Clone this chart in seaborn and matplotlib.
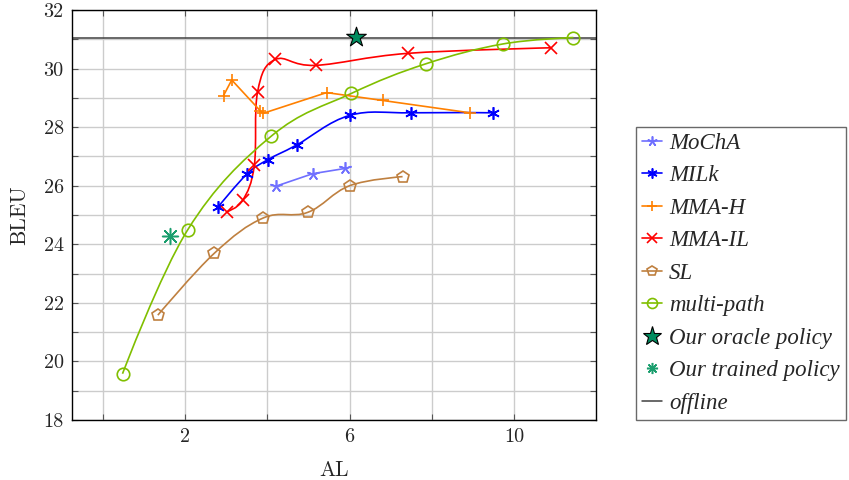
import numpy as np
import pandas as pd
import seaborn as sns
import matplotlib.pyplot as plt
from matplotlib.path import Path
from matplotlib.patches import PathPatch
from matplotlib.lines import Line2D

# values (AL, BLEU)
mocha_al = [4.20, 5.10, 5.89]
mocha_bleu = [25.98, 26.41, 26.59]
milk_al = [2.80, 3.50, 4.01, 4.71, 6.00, 7.50, 9.49]
milk_bleu = [25.28, 26.40, 26.89, 27.39, 28.40, 28.49, 28.49]
mmah_al = [2.93, 3.13, 3.83, 3.89, 5.44, 6.81, 8.93]
mmah_bleu = [29.08, 29.61, 28.55, 28.47, 29.18, 28.91, 28.49]
mmail_al = [3.01, 3.40, 3.68, 3.76, 4.19, 5.17, 7.42, 10.91]
mmail_bleu = [25.11, 25.51, 26.70, 29.21, 30.31, 30.11, 30.52, 30.71]
sl_al = [1.33, 2.71, 3.90, 4.98, 6.00, 7.29]
sl_bleu = [21.58, 23.70, 24.90, 25.09, 26.00, 26.31]
mp_al = [0.47, 2.06, 4.09, 6.04, 7.85, 9.73, 11.45]
mp_bleu = [19.58, 24.50, 27.69, 29.15, 30.16, 30.84, 31.06]
oracle_al = [6.15]
oracle_bleu = [31.08]
trained_al = [1.63]
trained_bleu = [24.30]
offline_bleu = 31.05

sns.set_theme(style="white")
plt.rcParams['font.family'] = ['cmr10', 'DejaVu Serif']
plt.rcParams['mathtext.fontset'] = 'cm'
plt.rcParams['axes.formatter.use_mathtext'] = True


def smooth_path(xs, ys, k=0.55 / 3):
    # tikz-like "smooth" curve through the points
    p = np.column_stack([xs, ys])
    n = len(p)
    verts = [p[0]]
    codes = [Path.MOVETO]
    for i in range(n - 1):
        d0 = p[i + 1] - p[i - 1] if i > 0 else np.zeros(2)
        d1 = p[i + 2] - p[i] if i + 2 < n else np.zeros(2)
        verts += [p[i] + k * d0, p[i + 1] - k * d1, p[i + 1]]
        codes += [Path.CURVE4] * 3
    return Path(verts, codes)


fig = plt.figure(figsize=(8.49, 4.8), dpi=100)
ax = fig.add_axes([72 / 849, 60 / 480, 524 / 849, 410 / 480])

lw = 1.2
ms = 9

series = [
    # name, x, y, color, marker, hollow, smooth
    ('MoChA', mocha_al, mocha_bleu, '#7070ff', (5, 2, 0), False, False),
    ('MILk', milk_al, milk_bleu, '#0000ff', (6, 2, 0), False, True),
    ('MMA-H', mmah_al, mmah_bleu, '#ff8000', '+', False, False),
    ('MMA-IL', mmail_al, mmail_bleu, '#ff0000', 'x', False, True),
    ('SL', sl_al, sl_bleu, '#bf8040', 'p', True, True),
    ('multi-path', mp_al, mp_bleu, '#80bf00', 'o', True, True),
]

handles = []
for name, xs, ys, c, m, hollow, smooth in series:
    df = pd.DataFrame({'AL': xs, 'BLEU': ys})
    if smooth:
        ax.add_patch(PathPatch(smooth_path(xs, ys), fill=False, edgecolor=c,
                               lw=lw, zorder=3))
        sns.lineplot(data=df, x='AL', y='BLEU', ax=ax, sort=False, estimator=None,
                     color=c, marker=m, markersize=ms, linestyle='none',
                     markerfacecolor='none' if hollow else c,
                     markeredgecolor=c, markeredgewidth=lw, zorder=4)
    else:
        sns.lineplot(data=df, x='AL', y='BLEU', ax=ax, sort=False, estimator=None,
                     color=c, marker=m, markersize=ms, lw=lw,
                     markerfacecolor=c, markeredgecolor=c,
                     markeredgewidth=lw, zorder=4)
    handles.append(Line2D([], [], color=c, lw=lw, marker=m, markersize=ms * 0.8,
                          markerfacecolor='none' if hollow else c,
                          markeredgecolor=c, markeredgewidth=lw, label=name))

ax.axhline(offline_bleu, color='#404040', lw=1.1, zorder=2)

sns.scatterplot(x=oracle_al, y=oracle_bleu, ax=ax, marker='*', s=220,
                color='#008c5f', edgecolor='black', linewidth=0.8, zorder=5)
sns.scatterplot(x=trained_al, y=trained_bleu, ax=ax, marker=(8, 2, 0), s=130,
                color='#1a9e6e', edgecolor='#1a9e6e', linewidth=1.1, zorder=5)

handles.append(Line2D([], [], ls='none', marker='*', markersize=14,
                      markerfacecolor='#008c5f', markeredgecolor='black',
                      markeredgewidth=0.8, label='Our oracle policy'))
handles.append(Line2D([], [], ls='none', marker=(8, 2, 0), markersize=8,
                      color='#1a9e6e', markeredgewidth=1.1,
                      label='Our trained policy'))
handles.append(Line2D([], [], color='#404040', lw=1.1, label='offline'))

ax.set_xlim(-0.76, 12.0)
ax.set_ylim(18, 32)
ax.set_xticks([0, 2, 4, 6, 8, 10])
ax.set_xticklabels(['', '2', '', '6', '', '10'])
ax.set_yticks(range(18, 33))
ax.set_yticklabels([str(v) if v % 2 == 0 else '' for v in range(18, 33)])
ax.grid(True, color='#cccccc', lw=1.0, zorder=0)
ax.set_axisbelow(True)
ax.tick_params(direction='in', length=4, width=0.8, color='#555555',
               top=True, right=True, bottom=True, left=True,
               labelsize=14.5, pad=6)
for s in ax.spines.values():
    s.set_color('black')
    s.set_linewidth(1.0)
ax.set_xlabel('AL', fontsize=15.5, labelpad=10)
ax.set_ylabel('BLEU', fontsize=15.5, labelpad=10)

leg = fig.legend(handles=handles, loc='upper left',
                 bbox_to_anchor=(636 / 849, 1 - 127 / 480),
                 frameon=True, fancybox=False, edgecolor='#444444',
                 handlelength=0.9, handletextpad=0.3, labelspacing=0.5,
                 borderpad=0.25, borderaxespad=0,
                 prop={'family': 'Liberation Serif', 'style': 'italic', 'size': 16.5})
leg.get_frame().set_linewidth(1.0)

fig.savefig('out.png', dpi=100)
